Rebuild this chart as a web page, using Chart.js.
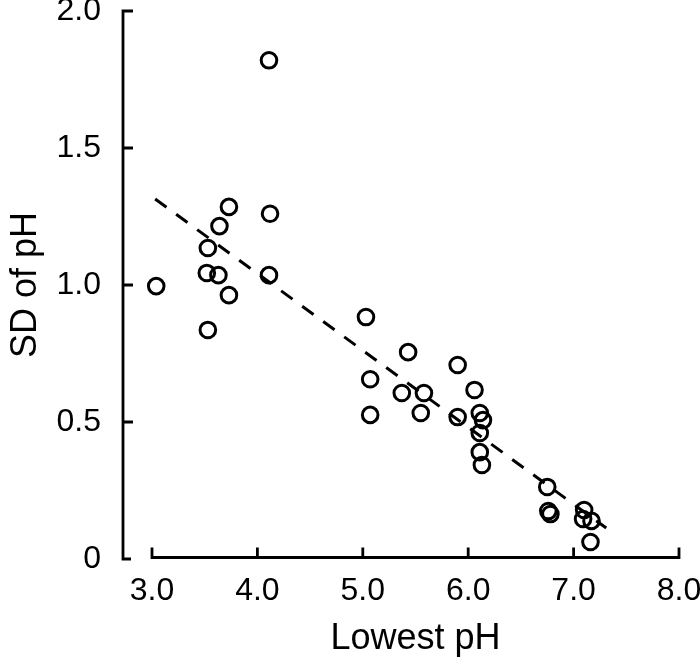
<!DOCTYPE html>
<html>
<head>
<meta charset="utf-8">
<title>SD of pH vs Lowest pH</title>
<script src="https://cdn.jsdelivr.net/npm/chart.js@4.4.1/dist/chart.umd.min.js"></script>
<style>
  html, body { margin: 0; padding: 0; background: #fff; }
  #wrap { width: 700px; height: 662px; }
</style>
</head>
<body>
<div id="wrap"><canvas id="phChart"></canvas></div>
<script>
// values (one circle per site)
var lowestPh = [4.11, 3.73, 4.12, 3.64, 3.53, 3.52, 3.63, 4.11, 3.04, 3.73, 3.53,
                5.03, 5.43, 5.07, 5.90, 5.37, 5.58, 5.07, 5.55, 6.06, 5.90, 6.11,
                6.14, 6.11, 6.11, 6.13, 6.75, 6.76, 6.78, 7.10, 7.09, 7.17, 7.16];
var sdPh = [1.82, 1.285, 1.26, 1.215, 1.135, 1.044, 1.036, 1.036, 0.996, 0.963, 0.836,
            0.883, 0.755, 0.656, 0.708, 0.606, 0.606, 0.526, 0.533, 0.617, 0.518, 0.533,
            0.507, 0.460, 0.390, 0.343, 0.263, 0.175, 0.164, 0.179, 0.146, 0.139, 0.062];

// dashed regression line, ends only
var fitX = [3.03, 7.31];
var fitY = [1.314, 0.113];

// axis ticks
var xTicks = [3, 4, 5, 6, 7, 8];
var yTicks = [0, 0.5, 1, 1.5, 2];

var FONT = "'Liberation Sans', Arial, Helvetica, sans-serif";

// axes are drawn by hand: detached y axis and ticks pointing inward
var axisLines = {
    id: 'axisLines',
    beforeDatasetsDraw: function(chart) {
        var ctx = chart.ctx;
        var xs = chart.scales.x;
        var ys = chart.scales.y;
        var ax = chart.chartArea.left - 29;
        var ay = chart.chartArea.bottom - 1.5;
        var yTop = ys.getPixelForValue(yTicks[yTicks.length - 1]);
        var yBot = ys.getPixelForValue(yTicks[0]);
        var xL = xs.getPixelForValue(xTicks[0]);
        var xR = xs.getPixelForValue(xTicks[xTicks.length - 1]);

        ctx.save();
        ctx.strokeStyle = '#000';
        ctx.lineWidth = 2.8;
        ctx.lineJoin = 'miter';

        // y axis
        ctx.beginPath();
        ctx.moveTo(ax + 10, yTop);
        ctx.lineTo(ax, yTop);
        ctx.lineTo(ax, yBot);
        ctx.lineTo(ax + 8, yBot);
        for (var i = 1; i < yTicks.length - 1; i++) {
            var py = ys.getPixelForValue(yTicks[i]);
            ctx.moveTo(ax, py);
            ctx.lineTo(ax + 10, py);
        }
        ctx.stroke();

        // x axis
        ctx.beginPath();
        ctx.moveTo(xL, ay - 10);
        ctx.lineTo(xL, ay);
        ctx.lineTo(xR, ay);
        ctx.lineTo(xR, ay - 10);
        for (var j = 1; j < xTicks.length - 1; j++) {
            var px = xs.getPixelForValue(xTicks[j]);
            ctx.moveTo(px, ay);
            ctx.lineTo(px, ay - 10);
        }
        ctx.stroke();
        ctx.restore();
    }
};

function fixedTicks(list) {
    return function(scale) {
        scale.ticks = list.map(function(v) { return { value: v }; });
    };
}

document.addEventListener('DOMContentLoaded', function() {
    var points = lowestPh.map(function(v, i) { return { x: v, y: sdPh[i] }; });
    var fitLine = fitX.map(function(v, i) { return { x: v, y: fitY[i] }; });

    Chart.defaults.color = '#000';
    Chart.defaults.font.family = FONT;

    new Chart(document.getElementById('phChart').getContext('2d'), {
        type: 'scatter',
        data: {
            datasets: [{
                label: 'sites',
                data: points,
                pointStyle: 'circle',
                pointRadius: 7.8,
                pointBorderWidth: 3,
                borderWidth: 3,
                borderColor: '#000',
                pointBorderColor: '#000',
                backgroundColor: 'rgba(0,0,0,0)',
                pointBackgroundColor: 'rgba(0,0,0,0)',
                clip: false
            }, {
                type: 'line',
                label: 'fit',
                data: fitLine,
                borderColor: '#000',
                borderWidth: 3,
                borderDash: [14, 12],
                pointRadius: 0,
                fill: false,
                clip: false
            }]
        },
        options: {
            responsive: true,
            maintainAspectRatio: false,
            animation: false,
            layout: { padding: { top: 11, right: 21, bottom: 0, left: 0 } },
            plugins: {
                legend: { display: false },
                tooltip: { enabled: false }
            },
            scales: {
                x: {
                    type: 'linear',
                    min: 3,
                    max: 8,
                    afterBuildTicks: fixedTicks(xTicks),
                    grid: { display: false, drawTicks: false },
                    border: { display: false },
                    ticks: {
                        padding: 13,
                        font: { size: 32 },
                        callback: function(v) { return v.toFixed(1); }
                    },
                    title: {
                        display: true,
                        text: 'Lowest pH',
                        font: { size: 36 },
                        padding: { top: 0, bottom: 1 }
                    },
                    afterFit: function(scale) {
                        scale.height = 103;
                        scale.paddingLeft = 0;
                        scale.paddingRight = 0;
                    }
                },
                y: {
                    type: 'linear',
                    min: 0,
                    max: 2,
                    afterBuildTicks: fixedTicks(yTicks),
                    grid: { display: false, drawTicks: false },
                    border: { display: false },
                    ticks: {
                        padding: 51,
                        font: { size: 32 },
                        callback: function(v) { return v === 0 ? '0' : v.toFixed(1); }
                    },
                    title: {
                        display: true,
                        text: 'SD of pH',
                        font: { size: 36 },
                        padding: { top: 4, bottom: 0 }
                    },
                    afterFit: function(scale) {
                        scale.width = 152;
                        scale.paddingTop = 0;
                        scale.paddingBottom = 0;
                    }
                }
            }
        },
        plugins: [axisLines]
    });
});
</script>
</body>
</html>
